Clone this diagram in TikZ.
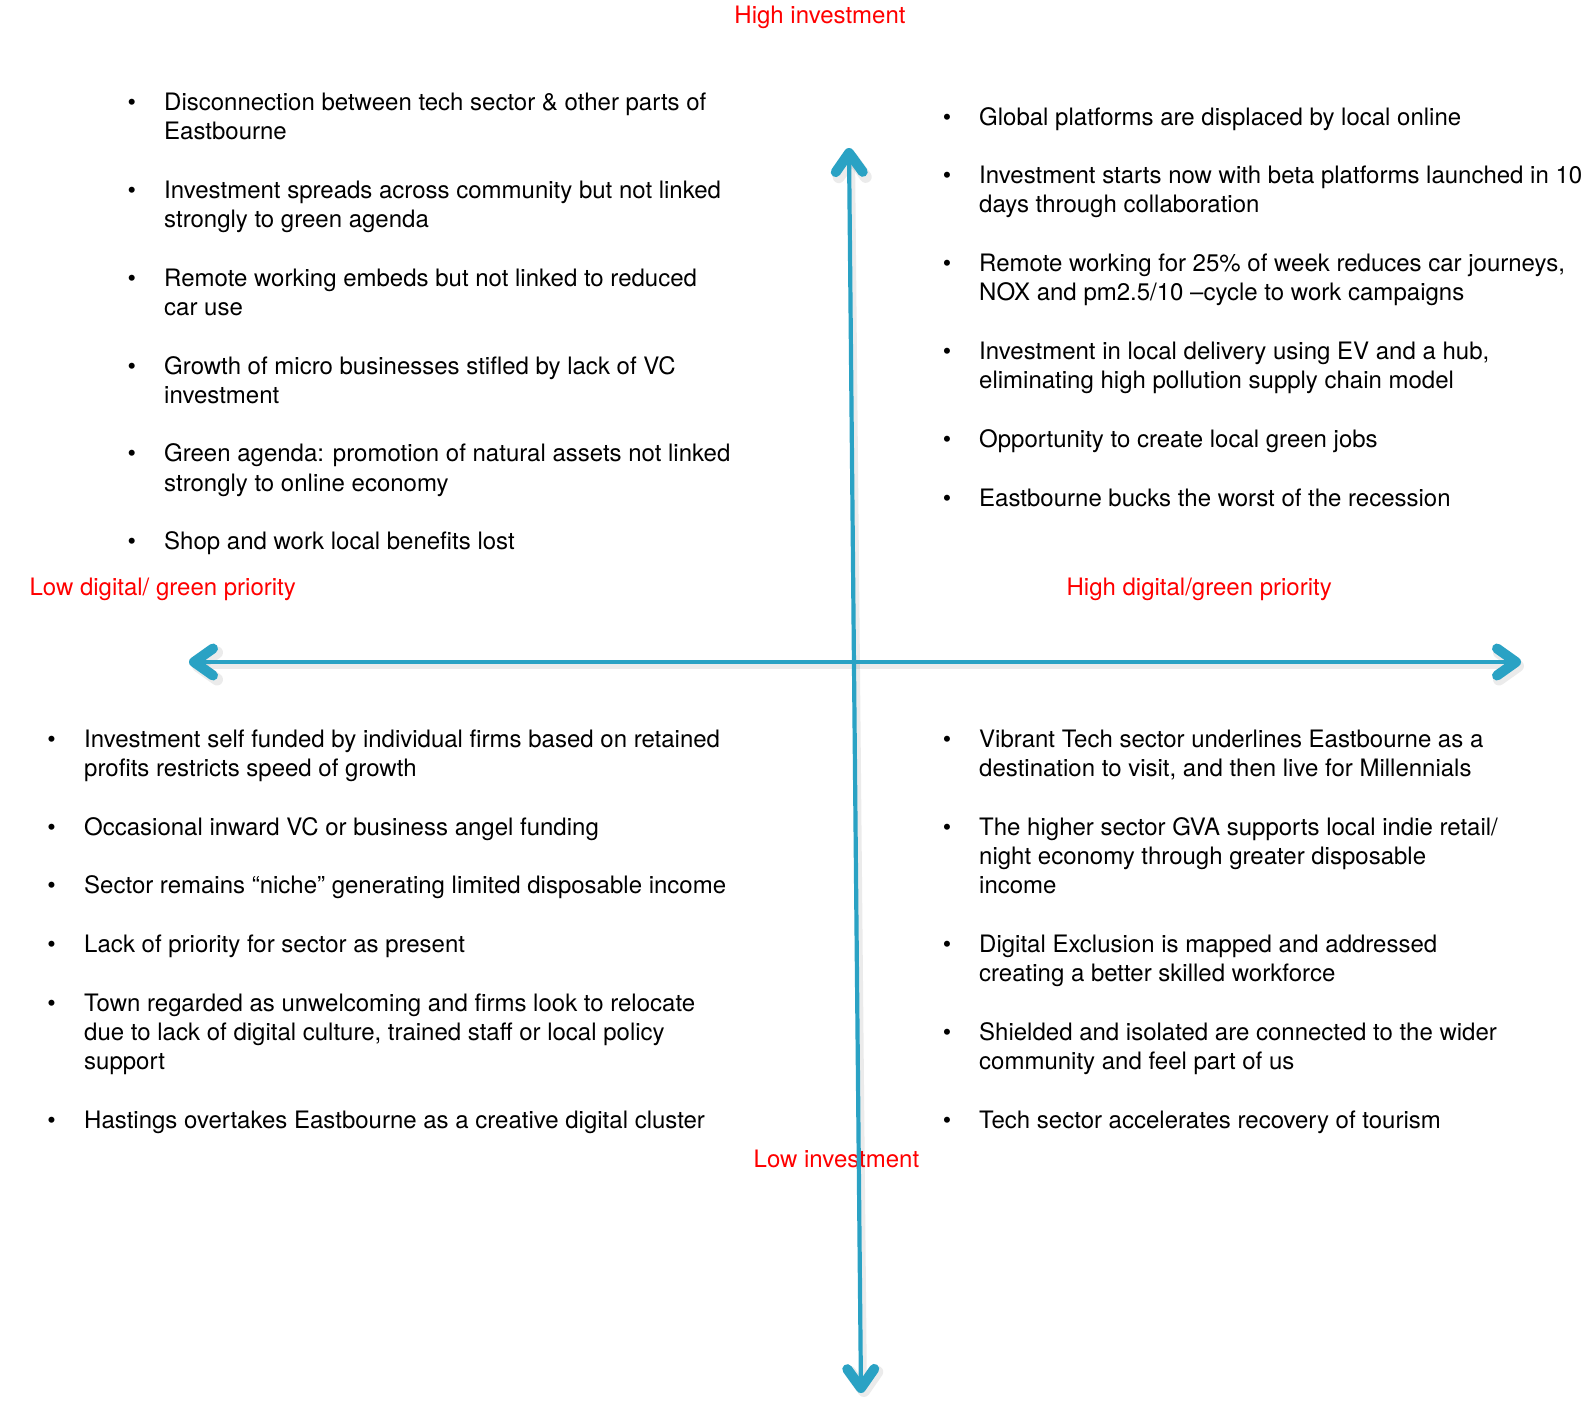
\documentclass[tikz,border=0pt]{standalone}
\usepackage{fontspec}
\setmainfont{TeX Gyre Heros}
\usetikzlibrary{arrows.meta}
\definecolor{axisblue}{RGB}{42,162,196}
\definecolor{lblred}{RGB}{255,0,0}
\newcommand\pitch{29.3}
\newcommand\qitem[5]{% #1 name, #2 bullet x, #3 text x, #4 first baseline, #5 lines
  \node[bul] (#1b) at (#2,#4) {•};
  \foreach \qq [count=\k from 0] in {#5}{\node[txt] (#1l\k) at (#3,{#4+\k*\pitch}) {\qq};}
}
\begin{document}
\begin{tikzpicture}[x=1pt,y=-1pt,
  txt/.style={anchor=base west, inner sep=0pt, font=\fontsize{24}{29.3}\selectfont, text=black},
  bul/.style={anchor=base, inner sep=0pt, font=\fontsize{24}{29.3}\selectfont, text=black},
  lbl/.style={anchor=base west, inner sep=0pt, font=\fontsize{24}{29.3}\selectfont, text=lblred},
  axis/.style={line width=4.2pt, draw=axisblue, line cap=round,
    >={Straight Barb[length=19pt,width=27pt,line width=10pt,round]}, <->},
  axshadow/.style={line width=6pt, draw=black, opacity=0.08, line cap=round,
    >={Straight Barb[length=19pt,width=27pt,line width=12pt,round]}, <->,
    transform canvas={shift={(3pt,-4pt)}}}
]
\useasboundingbox (0,0) rectangle (1588,1411);

% red axis labels
\node[anchor=base, inner sep=0pt, font=\fontsize{24}{29.3}\selectfont, text=lblred] (hi) at (820,23) {High investment};
\node[lbl] (lo) at (753.5,1167.5) {Low investment};
\node[lbl] (lowdg) at (29.4,595) {Low digital/ green priority};
\node[lbl] (highdg) at (1066.4,595) {High digital/green priority};

% top-left quadrant
\qitem{tla}{131.7}{164}{110.3}{{Disconnection between tech sector \& other parts of},{Eastbourne}}
\qitem{tlb}{131.7}{164}{198.2}{{Investment spreads across community but not linked},{strongly to green agenda}}
\qitem{tlc}{131.7}{164}{286.1}{{Remote working embeds but not linked to reduced},{car use}}
\qitem{tld}{131.7}{164}{374.0}{{Growth of micro businesses stifled by lack of VC},{investment}}
\qitem{tle}{131.7}{164}{461.9}{{Green agenda: promotion of natural assets not linked},{strongly to online economy}}
\qitem{tlf}{131.7}{164}{549.8}{{Shop and work local benefits lost}}

% top-right quadrant
\qitem{tra}{947}{979}{125.5}{{Global platforms are displaced by local online}}
\qitem{trb}{947}{979}{183.6}{{Investment starts now with beta platforms launched in 10},{days through collaboration}}
\qitem{trc}{947}{979}{271.5}{{Remote working for 25\% of week reduces car journeys,},{NOX and pm2.5/10 –cycle to work campaigns}}
\qitem{trd}{947}{979}{359.6}{{Investment in local delivery using EV and a hub,},{eliminating high pollution supply chain model}}
\qitem{tre}{947}{979}{447.8}{{Opportunity to create local green jobs}}
\qitem{trf}{947}{979}{506.4}{{Eastbourne bucks the worst of the recession}}

% bottom-left quadrant
\qitem{bla}{51.6}{84}{747.3}{{Investment self funded by individual firms based on retained},{profits restricts speed of growth}}
\qitem{blb}{51.6}{84}{835.2}{{Occasional inward VC or business angel funding}}
\qitem{blc}{51.6}{84}{893.8}{{Sector remains “niche” generating limited disposable income}}
\qitem{bld}{51.6}{84}{952.4}{{Lack of priority for sector as present}}
\qitem{ble}{51.6}{84}{1011.0}{{Town regarded as unwelcoming and firms look to relocate},{due to lack of digital culture, trained staff or local policy},{support}}
\qitem{blf}{51.6}{84}{1128.2}{{Hastings overtakes Eastbourne as a creative digital cluster}}

% bottom-right quadrant
\qitem{bra}{947}{979}{747.3}{{Vibrant Tech sector underlines Eastbourne as a},{destination to visit, and then live for Millennials}}
\qitem{brb}{947}{979}{835.2}{{The higher sector GVA supports local indie retail/},{night economy through greater disposable},{income}}
\qitem{brc}{947}{979}{952.4}{{Digital Exclusion is mapped and addressed},{creating a better skilled workforce}}
\qitem{brd}{947}{979}{1040.3}{{Shielded and isolated are connected to the wider},{community and feel part of us}}
\qitem{bre}{947}{979}{1128.2}{{Tech sector accelerates recovery of tourism}}

% axes
\coordinate (L) at (189,662);
\coordinate (R) at (1521,662);
\coordinate (T) at (849,148);
\coordinate (B) at (861,1393);
\draw[axshadow] (L) -- (R);
\draw[axshadow] (T) -- (B);
\draw[axis] (L) -- (R);
\draw[axis] (T) -- (B);
\end{tikzpicture}
\end{document}
